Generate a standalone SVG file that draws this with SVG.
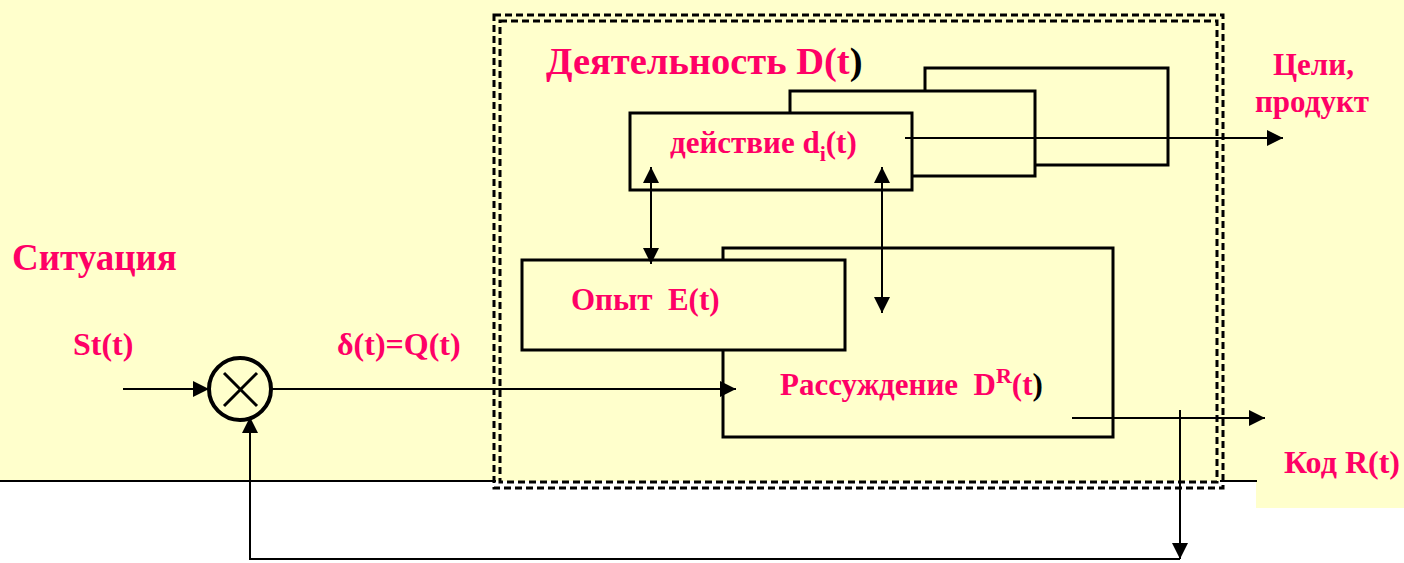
<svg xmlns="http://www.w3.org/2000/svg" width="1404" height="563" viewBox="0 0 1404 563">
<defs>
<style>
.t{font-family:"Liberation Serif","Times New Roman",serif;font-weight:bold;fill:#FF0066}
.k{fill:#000}
.ln{stroke:#000;stroke-width:2;fill:none}
.bx{stroke:#000;stroke-width:3;fill:none}
.dash{stroke:#000;stroke-width:3;fill:none;stroke-dasharray:7,4}
</style>
<marker id="ab" viewBox="0 0 10 10" refX="10" refY="5" markerWidth="16" markerHeight="16" markerUnits="userSpaceOnUse" orient="auto-start-reverse">
<path d="M0,0 L10,5 L0,10 z" fill="#000"/>
</marker>
</defs>
<rect x="0" y="0" width="1404" height="563" fill="#fff"/>
<rect x="0" y="0" width="1404" height="481" fill="#FFFFCC"/>
<rect x="1256" y="481" width="148" height="27" fill="#FFFFCC"/>
<line x1="0" y1="481" x2="496" y2="481" class="ln"/>
<line x1="1220" y1="481" x2="1257" y2="481" class="ln"/>

<g id="frame">
<rect x="494" y="15" width="729" height="473" class="dash"/>
<rect x="500" y="21" width="717" height="461" class="dash"/>
</g>

<g id="stack">
<polyline points="925,91 925,68 1168,68 1168,165 1035,165" class="bx"/>
<polyline points="790,113 790,91 1035,91 1035,176 912,176" class="bx"/>
</g>

<g id="action">
<rect x="630" y="113" width="282" height="77" class="bx"/>
<text x="670" y="153" class="t" font-size="31">действие d<tspan font-size="22" dy="8">i</tspan><tspan dy="-8">(t)</tspan></text>
</g>

<g id="reasoning">
<polyline points="723,260 723,248 1113,248 1113,437 723,437 723,350" class="bx"/>
<text x="780" y="395" class="t" font-size="31">Рассуждение&#160; D<tspan font-size="22" dy="-12">R</tspan><tspan dy="12">(t</tspan><tspan class="k">)</tspan></text>
</g>

<g id="experience">
<rect x="522" y="260" width="323" height="90" class="bx"/>
<text x="571" y="310" class="t" font-size="31">Опыт&#160; E(t)</text>
</g>

<g id="multiplier">
<circle cx="240" cy="389" r="31" fill="none" stroke="#000" stroke-width="4"/>
<line x1="224" y1="373" x2="257" y2="406" stroke="#000" stroke-width="3"/>
<line x1="257" y1="373" x2="224" y2="406" stroke="#000" stroke-width="3"/>
</g>

<g id="labels">
<text x="12" y="270" class="t" font-size="37">Ситуация</text>
<text x="73" y="355" class="t" font-size="32">St(t)</text>
<text x="337" y="355" class="t" font-size="32">δ(t)=Q(t)</text>
<text x="546" y="74" class="t" font-size="38.5">Деятельность D(t<tspan class="k">)</tspan></text>
<text x="1273" y="75" class="t" font-size="31">Цели,</text>
<text x="1255" y="112" class="t" font-size="31">продукт</text>
<text x="1284" y="473" class="t" font-size="32">Код R(t)</text>
</g>

<g id="connectors">
<line x1="123" y1="389" x2="209" y2="389" class="ln" marker-end="url(#ab)"/>
<line x1="271" y1="389" x2="736" y2="389" class="ln" marker-end="url(#ab)"/>
<line x1="905" y1="138" x2="1283" y2="138" class="ln" marker-end="url(#ab)"/>
<line x1="1072" y1="418" x2="1265" y2="418" class="ln" marker-end="url(#ab)"/>
<line x1="1180" y1="410" x2="1180" y2="559" class="ln" marker-end="url(#ab)"/>
<polyline points="1180,559 250,559 250,418" class="ln" stroke-width="3"/>
<line x1="250" y1="430" x2="250" y2="417" class="ln" marker-end="url(#ab)"/>
<line x1="651" y1="167" x2="651" y2="264" class="ln" stroke-width="3" marker-start="url(#ab)" marker-end="url(#ab)"/>
<line x1="882" y1="167" x2="882" y2="313" class="ln" stroke-width="3" marker-start="url(#ab)" marker-end="url(#ab)"/>
</g>
</svg>
